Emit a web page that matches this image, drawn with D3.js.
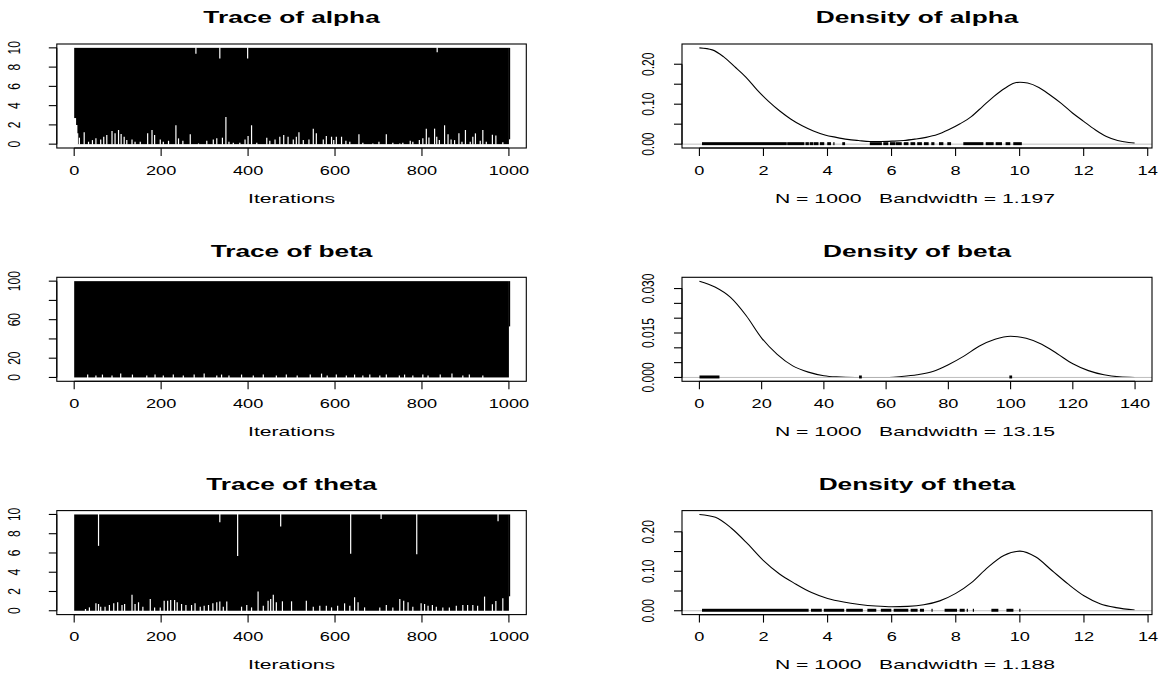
<!DOCTYPE html>
<html>
<head>
<meta charset="utf-8">
<script src="https://cdn.jsdelivr.net/npm/d3@7"></script>
<style>
  body { margin: 0; background: #ffffff; }
  text { font-family: "Liberation Sans", Arial, sans-serif; fill: #000; }
</style>
</head>
<body>
<svg id="chart"></svg>
<script>
// ---- DATA ----
const ITERATIONS = [0, 1000]
const TRACE_X_TICKS = [0, 200, 400, 600, 800, 1000]

// trace of alpha: chain jumps between its limits; gaps are where it stayed off a limit
const alphaLimits = [0, 10]
const alphaLowIter = [0, 1, 2, 3, 4, 5, 6, 8, 12, 23, 33, 42, 50, 61, 68, 75, 87, 94, 102, 108, 115, 121, 133, 140, 152, 169, 179, 185, 198, 205, 217, 234, 240, 250, 267, 286, 305, 320, 328, 341, 349, 356, 366, 381, 393, 400, 408, 420, 443, 450, 462, 473, 482, 492, 504, 511, 517, 527, 540, 550, 557, 573, 580, 592, 597, 603, 615, 625, 634, 655, 664, 687, 701, 718, 733, 749, 756, 773, 779, 794, 802, 810, 816, 829, 834, 840, 852, 860, 867, 875, 885, 892, 900, 911, 917, 923, 934, 940, 948, 962, 970, 986]
const alphaLowVal = [2.7, 2.7, 2.7, 2.7, 2.0, 2.0, 2.0, 1.12, 0.67, 1.23, 0.25, 0.42, 0.6, 0.49, 0.77, 0.95, 1.37, 1.12, 1.47, 1.05, 0.77, 0.42, 0.49, 0.25, 0.25, 1.12, 1.47, 0.95, 0.49, 0.25, 0.35, 1.96, 0.6, 0.35, 1.02, 0.07, 0.35, 0.49, 0.6, 0.67, 2.81, 0.25, 0.14, 0.14, 0.49, 0.84, 1.96, 0.14, 0.67, 0.35, 0.49, 0.77, 0.95, 0.77, 0.49, 0.77, 1.23, 0.42, 0.49, 1.61, 1.12, 0.49, 0.84, 0.77, 0.42, 0.77, 0.77, 0.35, 0.25, 1.02, 0.14, 0.07, 0.25, 1.02, 0.14, 0.07, 0.14, 0.35, 0.25, 0.42, 0.6, 1.61, 0.7, 1.61, 0.77, 0.42, 1.96, 1.02, 0.49, 0.42, 1.12, 0.25, 1.47, 0.25, 0.77, 1.12, 0.35, 1.47, 0.25, 0.98, 0.9, 0.2]
const alphaHighIter = [280, 335, 399, 835]
const alphaHighVal = [9.4, 8.9, 8.9, 9.55]
const alphaLast = 0.5

const betaLimits = [0, 100]
const betaLowIter = [31, 50, 65, 87, 107, 134, 167, 186, 205, 228, 251, 276, 299, 328, 339, 356, 385, 412, 435, 465, 488, 513, 543, 569, 582, 603, 626, 645, 664, 680, 703, 718, 748, 760, 779, 802, 814, 842, 869, 894, 909, 940]
const betaLowVal = [3, 2, 3, 2, 4, 3, 2, 3, 2, 3, 2, 3, 4, 2, 3, 2, 3, 2, 3, 2, 3, 2, 3, 4, 2, 3, 2, 3, 2, 3, 2, 3, 2, 3, 2, 3, 2, 3, 4, 2, 3, 2]
const betaHighIter = []
const betaHighVal = []
const betaLast = 53

const thetaLimits = [0, 10]
const thetaLowIter = [26, 35, 50, 56, 61, 71, 81, 91, 100, 110, 116, 133, 140, 148, 158, 175, 185, 198, 207, 215, 222, 231, 237, 247, 257, 270, 278, 290, 299, 309, 319, 328, 335, 343, 351, 385, 397, 408, 423, 435, 446, 452, 458, 465, 479, 500, 534, 550, 565, 580, 592, 606, 622, 634, 645, 653, 668, 703, 718, 733, 749, 758, 768, 779, 798, 806, 814, 824, 833, 848, 863, 879, 894, 905, 917, 928, 944, 962, 970, 986]
const thetaLowVal = [0.18, 0.35, 0.77, 0.7, 0.42, 0.42, 0.6, 0.77, 0.88, 0.6, 0.7, 1.65, 0.7, 0.88, 0.42, 1.23, 0.35, 0.35, 1.05, 1.05, 1.12, 1.12, 0.88, 0.7, 0.6, 0.6, 0.77, 0.42, 0.53, 0.6, 0.77, 0.88, 0.95, 0.42, 0.95, 0.42, 0.6, 0.35, 2.0, 0.53, 1.05, 1.23, 1.65, 0.88, 0.98, 0.98, 1.05, 0.42, 0.53, 0.53, 0.35, 0.53, 0.77, 0.53, 1.4, 0.88, 0.35, 0.35, 0.6, 0.35, 1.23, 1.05, 0.88, 0.42, 0.77, 0.7, 0.53, 0.6, 0.42, 0.35, 0.35, 0.53, 0.6, 0.6, 0.6, 0.53, 1.47, 0.67, 1.0, 1.3]
const thetaHighIter = [56, 335, 376, 475, 636, 706, 788, 975]
const thetaHighVal = [6.74, 9.19, 5.68, 8.74, 5.93, 9.54, 5.86, 9.3]
const thetaLast = 1.5

// densities
const alphaDensX = [0, 0.4, 0.75, 1.1, 1.45, 1.8, 2.16, 2.51, 2.86, 3.21, 3.56, 3.92, 4.27, 4.62, 4.97, 5.32, 5.67, 6.03, 6.38, 6.73, 7.08, 7.43, 7.78, 8.14, 8.49, 8.84, 9.19, 9.54, 9.84, 10.01, 10.25, 10.6, 10.95, 11.3, 11.65, 12.0, 12.36, 12.71, 13.06, 13.41, 13.59]
const alphaDensY = [0.241, 0.236, 0.219, 0.194, 0.168, 0.136, 0.107, 0.083, 0.0625, 0.046, 0.033, 0.023, 0.017, 0.012, 0.009, 0.0067, 0.0067, 0.0075, 0.009, 0.0125, 0.017, 0.024, 0.036, 0.051, 0.069, 0.094, 0.119, 0.14, 0.153, 0.155, 0.153, 0.142, 0.123, 0.102, 0.078, 0.057, 0.036, 0.019, 0.009, 0.004, 0.0025]
const alphaRug = [[0.1, 2.71], [2.76, 3.26], [3.33, 3.4], [3.46, 3.54], [3.59, 3.7], [3.78, 3.88], [4.01, 4.09], [4.2, 4.2], [4.48, 4.53], [5.34, 5.68], [5.76, 5.88], [5.97, 6.09], [6.14, 6.3], [6.4, 6.51], [6.61, 6.72], [6.82, 6.93], [7.03, 7.14], [7.26, 7.32], [7.5, 7.6], [7.76, 7.84], [8.26, 8.85], [8.96, 9.17], [9.27, 9.43], [9.58, 9.69], [9.82, 10.05]]
const alphaBandwidth = "1.197"

const betaDensX = [0, 5, 10, 15, 20, 25, 30, 35, 40, 44, 50, 55, 61, 65, 70, 75, 80, 85, 90, 95, 100, 105, 110, 115, 120, 125, 130, 135, 139.85]
const betaDensY = [0.0325, 0.0305, 0.027, 0.0209, 0.0133, 0.0078, 0.0039, 0.0018, 0.0006, 0.0002, 0, 0, 0, 0.0003, 0.0009, 0.002, 0.0043, 0.0072, 0.0106, 0.0129, 0.0139, 0.0132, 0.0112, 0.008, 0.0046, 0.0023, 0.0009, 0.0002, 0]
const betaRug = [[0.22, 6.25], [51.5, 52], [99.8, 100.3]]
const betaBandwidth = "13.15"

const thetaDensX = [0, 0.5, 1, 1.5, 2, 2.5, 3, 3.5, 4, 4.5, 5, 5.5, 6, 6.5, 7, 7.5, 8, 8.5, 9, 9.5, 10, 10.5, 11, 11.5, 12, 12.5, 13, 13.58]
const thetaDensY = [0.244, 0.237, 0.209, 0.17, 0.127, 0.093, 0.068, 0.046, 0.031, 0.022, 0.016, 0.012, 0.01, 0.011, 0.015, 0.025, 0.044, 0.072, 0.11, 0.14, 0.151, 0.136, 0.102, 0.068, 0.038, 0.018, 0.008, 0.002]
const thetaRug = [[0.1, 3.39], [3.5, 3.8], [3.9, 4.5], [4.6, 5.08], [5.26, 5.5], [5.68, 5.97], [6.08, 6.5], [6.61, 6.79], [6.9, 6.99], [7.26, 7.26], [7.67, 8.02], [8.14, 8.26], [8.36, 8.36], [8.55, 8.55], [9.13, 9.31], [9.6, 9.78], [10.0, 10.0]]
const thetaBandwidth = "1.188"

const SAMPLE_SIZE = 1000

// ticks
const alphaYTicks = [0, 2, 4, 6, 8, 10]
const alphaYLabels = ["0", "2", "4", "6", "8", "10"]
const betaYTicks = [0, 20, 40, 60, 80, 100]
const betaYLabels = ["0", "20", "", "60", "", "100"]
const smallDensXTicks = [0, 2, 4, 6, 8, 10, 12, 14]
const betaDensXTicks = [0, 20, 40, 60, 80, 100, 120, 140]
const smallDensYTicks = [0, 0.05, 0.1, 0.15, 0.2]
const smallDensYLabels = ["0.00", "", "0.10", "", "0.20"]
const betaDensYTicks = [0, 0.005, 0.01, 0.015, 0.02, 0.025, 0.03]
const betaDensYLabels = ["0.000", "", "", "0.015", "", "", "0.030"]

// ---- LAYOUT ----
const WIDTH = 1168
const HEIGHT = 673
const ROW_TOP = 44
const ROW_STEP = 233.3
const BOX_H = 104
const TRACE_LEFT = 56.8
const TRACE_RIGHT = 526.3
const DENS_LEFT = 682
const DENS_RIGHT = 1152
const TICK_LEN = 8
const STRETCH_TITLE = 1.64
const STRETCH_LABEL = 1.63
const STRETCH_TICK = 1.4
const TITLE_SIZE = 16
const LABEL_SIZE = 13
const TICK_SIZE = 13
const YTICK_SIZE = 12

const pad = ([a, b]) => { const e = (b - a) * 0.04; return [a - e, b + e] }

const svg = d3.select("#chart").attr("width", WIDTH).attr("height", HEIGHT)
svg.append("rect").attr("width", WIDTH).attr("height", HEIGHT).attr("fill", "#fff")

function wideText(g, x, y, str, size, sx, bold, rotated) {
  const t = g.append("text")
    .attr("transform", `translate(${x},${y}) scale(${sx},1)` + (rotated ? " rotate(-90)" : ""))
    .attr("text-anchor", "middle")
    .style("font-size", size + "px")
    .text(str)
  if (bold) t.style("font-weight", "bold")
  if (rotated) t.attr("dy", "0.36em")
  return t
}

function drawFrame(g, x, y, xTicks, yTicks, yLabels, yLabelX, top, left, right) {
  const bottom = top + BOX_H
  g.append("rect")
    .attr("x", left).attr("y", top)
    .attr("width", right - left).attr("height", BOX_H)
    .attr("fill", "none").attr("stroke", "#000").attr("stroke-width", 1.1)

  // x axis
  g.append("line")
    .attr("x1", x(xTicks[0])).attr("x2", x(xTicks[xTicks.length - 1]))
    .attr("y1", bottom).attr("y2", bottom)
    .attr("stroke", "#000").attr("stroke-width", 1.1)
  g.selectAll(null).data(xTicks).join("line")
    .attr("x1", d => x(d)).attr("x2", d => x(d))
    .attr("y1", bottom).attr("y2", bottom + TICK_LEN)
    .attr("stroke", "#000").attr("stroke-width", 1.1)
  xTicks.forEach(d => wideText(g, x(d), top + 130.5, String(d), TICK_SIZE, STRETCH_TICK, false, false))

  // y axis
  g.append("line")
    .attr("x1", left).attr("x2", left)
    .attr("y1", y(yTicks[0])).attr("y2", y(yTicks[yTicks.length - 1]))
    .attr("stroke", "#000").attr("stroke-width", 1.1)
  g.selectAll(null).data(yTicks).join("line")
    .attr("x1", left - TICK_LEN).attr("x2", left)
    .attr("y1", d => y(d)).attr("y2", d => y(d))
    .attr("stroke", "#000").attr("stroke-width", 1.1)
  yTicks.forEach((d, i) => {
    if (yLabels[i]) wideText(g, yLabelX, y(d), yLabels[i], YTICK_SIZE, STRETCH_TICK, false, true)
  })
}

function drawTrace(row, name, limits, lowIter, lowVal, highIter, highVal, lastVal, yTicks, yLabels) {
  const top = ROW_TOP + row * ROW_STEP
  const g = svg.append("g")
  const x = d3.scaleLinear().domain(pad(ITERATIONS)).range([TRACE_LEFT, TRACE_RIGHT])
  const y = d3.scaleLinear().domain(pad(limits)).range([top + BOX_H, top])

  // solid band where the chain swings between its limits every iteration
  g.append("rect")
    .attr("x", x(ITERATIONS[0])).attr("y", y(limits[1]))
    .attr("width", x(ITERATIONS[1]) - x(ITERATIONS[0]))
    .attr("height", y(limits[0]) - y(limits[1]))
    .attr("fill", "#000")
  g.append("line")
    .attr("x1", x(ITERATIONS[1]) + 0.6).attr("x2", x(ITERATIONS[1]) + 0.6)
    .attr("y1", y(lastVal)).attr("y2", y(limits[1]))
    .attr("stroke", "#000").attr("stroke-width", 1.3)

  g.selectAll(null).data(d3.zip(lowIter, lowVal)).join("line")
    .attr("x1", d => x(d[0])).attr("x2", d => x(d[0]))
    .attr("y1", y(limits[0]) + 0.5).attr("y2", d => y(d[1]))
    .attr("stroke", "#fff").attr("stroke-width", 1.2)
  g.selectAll(null).data(d3.zip(highIter, highVal)).join("line")
    .attr("x1", d => x(d[0])).attr("x2", d => x(d[0]))
    .attr("y1", y(limits[1]) - 0.5).attr("y2", d => y(d[1]))
    .attr("stroke", "#fff").attr("stroke-width", 1.2)

  drawFrame(g, x, y, TRACE_X_TICKS, yTicks, yLabels, TRACE_LEFT - 42.5, top, TRACE_LEFT, TRACE_RIGHT)
  const cx = (TRACE_LEFT + TRACE_RIGHT) / 2
  wideText(g, cx, top - 20.7, "Trace of " + name, TITLE_SIZE, STRETCH_TITLE, true, false)
  wideText(g, cx, top + 158.7, "Iterations", LABEL_SIZE, STRETCH_LABEL, false, false)
}

function drawDensity(row, name, densX, densY, rug, bandwidth, xTicks, yTicks, yLabels) {
  const top = ROW_TOP + row * ROW_STEP
  const g = svg.append("g")
  const yMax = d3.max(densY)
  const x = d3.scaleLinear().domain(pad(d3.extent(densX))).range([DENS_LEFT, DENS_RIGHT])
  const y = d3.scaleLinear().domain(pad([0, yMax])).range([top + BOX_H, top])

  const line = d3.line().x(d => x(d[0])).y(d => y(d[1])).curve(d3.curveMonotoneX)
  g.append("path")
    .attr("d", line(d3.zip(densX, densY)))
    .attr("fill", "none").attr("stroke", "#000").attr("stroke-width", 1.1)

  // zero line (drawn over the curve, as plot.density does)
  g.append("line")
    .attr("x1", DENS_LEFT).attr("x2", DENS_RIGHT)
    .attr("y1", y(0)).attr("y2", y(0))
    .attr("stroke", "#bebebe").attr("stroke-width", 1)

  // observations as short spikes of height max/100
  g.selectAll(null).data(rug).join("rect")
    .attr("x", d => x(d[0]) - 0.6)
    .attr("width", d => Math.max(1.2, x(d[1]) - x(d[0]) + 1.2))
    .attr("y", y(yMax / 100) - 1)
    .attr("height", y(0) - y(yMax / 100) + 2)
    .attr("fill", "#000")

  drawFrame(g, x, y, xTicks, yTicks, yLabels, DENS_LEFT - 34.5, top, DENS_LEFT, DENS_RIGHT)
  const cx = (DENS_LEFT + DENS_RIGHT) / 2
  wideText(g, cx, top - 20.7, "Density of " + name, TITLE_SIZE, STRETCH_TITLE, true, false)
  wideText(g, cx - 2, top + 158.7, `N = ${SAMPLE_SIZE}   Bandwidth = ${bandwidth}`, LABEL_SIZE, STRETCH_LABEL, false, false)
    .style("white-space", "pre")
}

drawTrace(0, "alpha", alphaLimits, alphaLowIter, alphaLowVal, alphaHighIter, alphaHighVal, alphaLast, alphaYTicks, alphaYLabels)
drawTrace(1, "beta", betaLimits, betaLowIter, betaLowVal, betaHighIter, betaHighVal, betaLast, betaYTicks, betaYLabels)
drawTrace(2, "theta", thetaLimits, thetaLowIter, thetaLowVal, thetaHighIter, thetaHighVal, thetaLast, alphaYTicks, alphaYLabels)

drawDensity(0, "alpha", alphaDensX, alphaDensY, alphaRug, alphaBandwidth, smallDensXTicks, smallDensYTicks, smallDensYLabels)
drawDensity(1, "beta", betaDensX, betaDensY, betaRug, betaBandwidth, betaDensXTicks, betaDensYTicks, betaDensYLabels)
drawDensity(2, "theta", thetaDensX, thetaDensY, thetaRug, thetaBandwidth, smallDensXTicks, smallDensYTicks, smallDensYLabels)
</script>
</body>
</html>
